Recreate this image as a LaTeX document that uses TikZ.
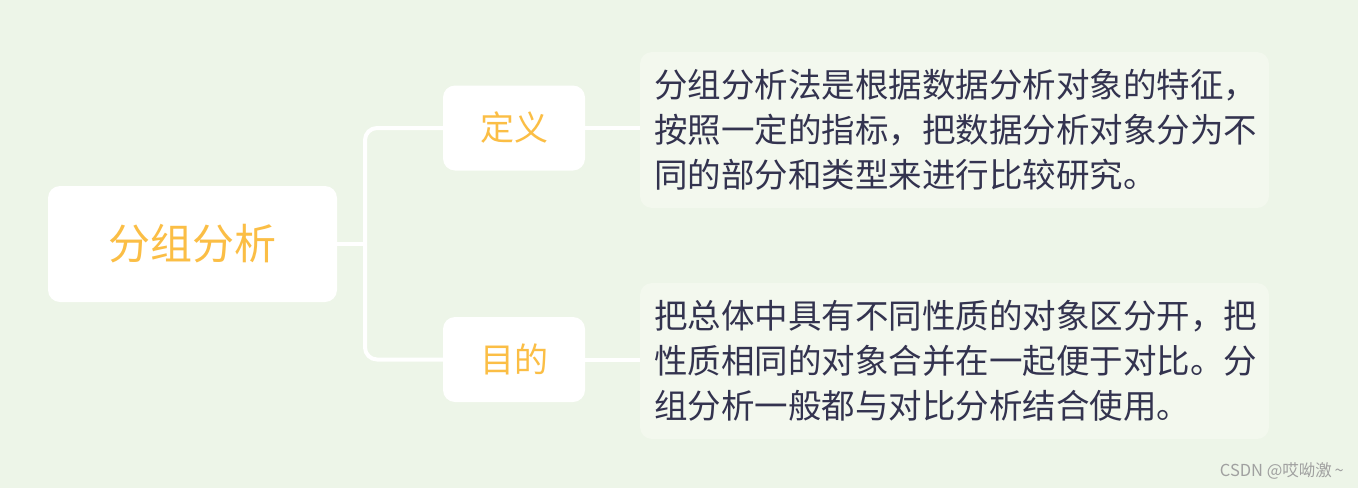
\documentclass[tikz,border=0pt]{standalone}
\usepackage{fontspec}
\setmainfont{Noto Sans CJK SC}
\newfontfamily\cjk{Noto Sans CJK SC}
\definecolor{bgc}{HTML}{EDF5E8}
\definecolor{leafc}{HTML}{F3F8EE}
\definecolor{orng}{HTML}{FBBE45}
\definecolor{txtc}{HTML}{33334F}
\definecolor{wmc}{HTML}{A0A0A0}
\begin{document}
\begin{tikzpicture}[x=1pt,y=-1pt,
  rootbox/.style={fill=white,rounded corners=12pt,minimum width=289pt,minimum height=116pt,inner sep=0pt,text=orng,font=\cjk\fontsize{42}{50}\selectfont},
  midbox/.style={fill=white,rounded corners=12pt,minimum width=142pt,minimum height=85pt,inner sep=0pt,text=orng,font=\cjk\fontsize{34}{40}\selectfont},
  leafbox/.style={fill=leafc,rounded corners=12pt,minimum width=629pt,minimum height=156pt,inner xsep=14pt,inner ysep=0pt,text width=601pt,align=left,text=txtc,font=\cjk\fontsize{33.5}{45}\selectfont},
  link/.style={draw=white,line width=4pt}]
\fill[bgc] (0,0) rectangle (1358,488);
\useasboundingbox (0,0) rectangle (1358,488);
\node[rootbox] (root) at (192.5,244) {分组分析};
\node[midbox] (def) at (514,128) {定义};
\node[midbox] (aim) at (514,359.5) {目的};
\node[leafbox] (l1) at (954.5,130) {分组分析法是根据数据分析对象的特征，\\按照一定的指标，把数据分析对象分为不\\同的部分和类型来进行比较研究。};
\node[leafbox] (l2) at (954.5,361) {把总体中具有不同性质的对象区分开，把\\性质相同的对象合并在一起便于对比。分\\组分析一般都与对比分析结合使用。};
\coordinate (bus) at (365,244);
\draw[link] (root.east) -- (bus);
\draw[link,rounded corners=12pt] (bus) |- (def.west);
\draw[link,rounded corners=12pt] (bus) |- (aim.west);
\draw[link] (def.east) -- (l1.west |- def.east);
\draw[link] (aim.east) -- (l2.west |- aim.east);
\node[anchor=base east,inner sep=0pt,text=wmc,font=\cjk\fontsize{16.5}{19}\selectfont] (wm) at (1344,476) {CSDN @哎呦激\,\textasciitilde};
\end{tikzpicture}
\end{document}
